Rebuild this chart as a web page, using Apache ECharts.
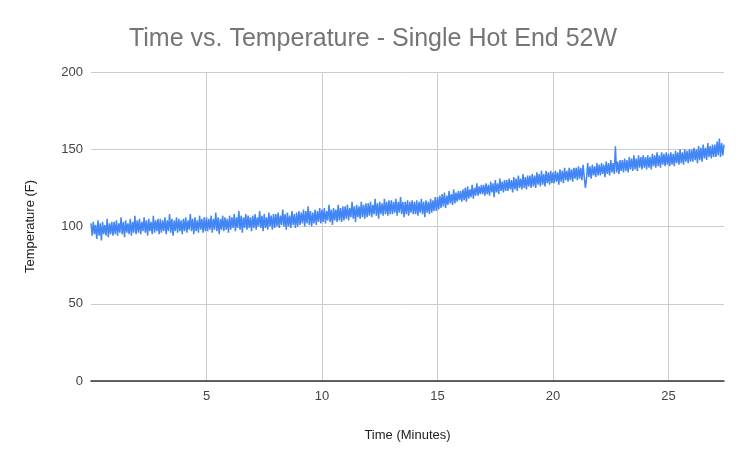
<!DOCTYPE html>
<html>
<head>
<meta charset="utf-8">
<script src="https://cdn.jsdelivr.net/npm/echarts@6/dist/echarts.min.js"></script>
<style>
  html, body { margin: 0; padding: 0; background: #fff; }
  #chart { width: 746px; height: 464px; }
</style>
</head>
<body>
<div id="chart"></div>
<script>
  const sampleStep = 0.05;
  const temps = [
    102, 94, 103, 95, 101, 92, 104, 94, 102, 91, 103, 95, 101, 94, 105, 93, 102, 95, 103, 94,
    103, 95, 104, 94, 102, 96, 106, 95, 103, 93, 104, 96, 102, 95, 105, 94, 103, 96, 107, 95,
    104, 96, 105, 95, 103, 97, 106, 96, 104, 94, 105, 97, 103, 95, 107, 96, 104, 97, 105, 95,
    105, 96, 104, 97, 106, 95, 104, 97, 108, 96, 105, 94, 104, 97, 106, 96, 105, 97, 104, 95,
    105, 97, 106, 96, 104, 98, 108, 97, 105, 95, 106, 97, 104, 96, 107, 98, 105, 96, 106, 97,
    106, 97, 105, 98, 107, 96, 105, 98, 109, 97, 106, 95, 105, 98, 107, 97, 106, 98, 105, 96,
    107, 98, 106, 99, 108, 97, 106, 99, 110, 98, 107, 96, 106, 99, 108, 98, 107, 99, 106, 97,
    107, 99, 108, 98, 106, 100, 110, 99, 107, 97, 108, 99, 106, 98, 109, 100, 107, 98, 108, 99,
    108, 100, 109, 99, 107, 101, 111, 100, 108, 98, 109, 100, 107, 99, 110, 101, 108, 99, 109, 100,
    110, 101, 109, 102, 111, 100, 110, 102, 113, 101, 110, 100, 109, 102, 111, 101, 110, 103, 112, 102,
    111, 103, 112, 102, 110, 104, 114, 103, 111, 101, 112, 104, 111, 103, 114, 104, 112, 103, 113, 104,
    113, 105, 114, 104, 112, 106, 116, 105, 113, 103, 114, 106, 113, 105, 116, 106, 114, 105, 115, 106,
    115, 107, 116, 106, 114, 108, 118, 107, 115, 105, 116, 108, 115, 107, 118, 108, 116, 107, 117, 108,
    117, 108, 116, 109, 118, 107, 116, 109, 119, 108, 116, 106, 116, 108, 117, 107, 116, 109, 117, 108,
    116, 108, 117, 107, 116, 109, 118, 108, 116, 106, 117, 109, 116, 108, 118, 109, 117, 110, 119, 110,
    119, 111, 120, 112, 121, 113, 122, 112, 120, 114, 123, 115, 121, 114, 124, 115, 122, 116, 123, 117,
    123, 116, 124, 117, 125, 116, 126, 118, 124, 119, 127, 118, 125, 120, 128, 120, 126, 121, 127, 121,
    127, 120, 128, 121, 127, 120, 129, 122, 128, 119, 130, 122, 128, 121, 131, 123, 129, 122, 130, 123,
    130, 123, 131, 124, 130, 122, 132, 124, 131, 123, 133, 125, 131, 124, 134, 125, 132, 124, 133, 126,
    133, 125, 134, 126, 133, 125, 135, 127, 134, 126, 136, 127, 134, 126, 136, 128, 135, 127, 136, 128,
    135, 128, 136, 129, 135, 127, 137, 129, 136, 128, 138, 130, 136, 129, 138, 130, 137, 129, 138, 131,
    138, 130, 139, 131, 138, 130, 140, 132, 125, 131, 141, 132, 139, 131, 140, 133, 139, 132, 141, 133,
    140, 133, 141, 134, 140, 132, 142, 134, 141, 133, 143, 135, 141, 134, 152, 135, 142, 134, 143, 136,
    143, 135, 144, 136, 143, 135, 145, 137, 144, 136, 146, 137, 144, 136, 146, 138, 145, 137, 146, 138,
    145, 137, 146, 138, 145, 137, 147, 139, 146, 138, 148, 139, 146, 138, 148, 140, 147, 139, 148, 140,
    147, 139, 148, 140, 147, 139, 149, 141, 148, 140, 150, 141, 148, 140, 150, 142, 149, 141, 150, 142,
    150, 142, 151, 143, 150, 141, 152, 143, 151, 142, 153, 144, 151, 143, 154, 145, 152, 144, 153, 145,
    153, 145, 155, 146, 157, 145, 154, 146, 153
  ];
  const yTicks = [0, 50, 100, 150, 200];

  const points = temps.map((t, i) => [+(i * sampleStep).toFixed(2), t]);

  const chart = echarts.init(document.getElementById('chart'));
  chart.setOption({
    animation: false,
    title: {
      text: 'Time vs. Temperature - Single Hot End 52W',
      left: 'center',
      top: 22,
      textStyle: {
        fontFamily: 'Liberation Sans, Arial',
        fontSize: 25,
        fontWeight: 'normal',
        color: '#757575'
      }
    },
    grid: { left: 91, right: 22, top: 72, bottom: 83 },
    xAxis: {
      type: 'value',
      min: 0,
      max: 27.4,
      interval: 5,
      name: 'Time (Minutes)',
      nameLocation: 'middle',
      nameGap: 48,
      nameTextStyle: { fontFamily: 'Liberation Sans, Arial', fontSize: 13, color: '#222' },
      axisLine: { lineStyle: { color: '#333', width: 1.5 } },
      axisTick: { show: false },
      axisLabel: {
        showMinLabel: false,
        showMaxLabel: false,
        margin: 9,
        fontFamily: 'Liberation Sans, Arial',
        fontSize: 13,
        color: '#444'
      },
      splitLine: { show: true, showMinLine: false, showMaxLine: false, lineStyle: { color: '#ccc' } }
    },
    yAxis: {
      type: 'value',
      min: yTicks[0],
      max: yTicks[yTicks.length - 1],
      interval: 50,
      name: 'Temperature (F)',
      nameLocation: 'middle',
      nameGap: 54,
      nameTextStyle: { fontFamily: 'Liberation Sans, Arial', fontSize: 13, color: '#222' },
      axisLine: { show: false },
      axisTick: { show: false },
      axisLabel: { margin: 8, fontFamily: 'Liberation Sans, Arial', fontSize: 13, color: '#444' },
      splitLine: { lineStyle: { color: '#ccc' } }
    },
    series: [{
      type: 'line',
      data: points,
      showSymbol: false,
      lineStyle: { color: '#4285f4', width: 1.5 },
      z: 3
    }]
  });
</script>
</body>
</html>
